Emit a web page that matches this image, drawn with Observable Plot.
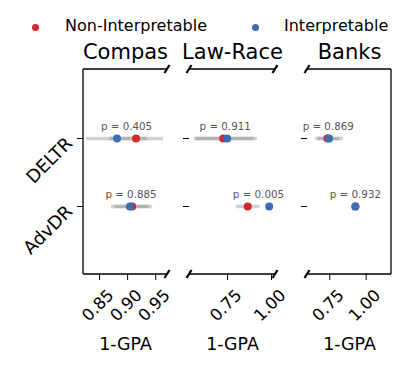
<!DOCTYPE html>
<html><head><meta charset="utf-8">
<script src="https://cdn.jsdelivr.net/npm/d3@7"></script>
<script src="https://cdn.jsdelivr.net/npm/@observablehq/plot@0.6"></script>
<style>
body{margin:0;background:#fff;}
#wrap{position:relative;width:408px;height:366px;overflow:hidden;font-family:"DejaVu Sans",sans-serif;}
.panel{position:absolute;top:0;}
.leg{position:absolute;font-size:16px;line-height:16px;color:#000;white-space:nowrap;}
.ldot{position:absolute;width:7px;height:7px;border-radius:50%;}
</style></head><body>
<div id="wrap"></div>
<script>
const datasets = ["Compas", "Law-Race", "Banks"];
const methods = ["DELTR", "AdvDR"];
const seriesNames = ["Non-Interpretable", "Interpretable"];
const seriesColors = ["#d0282e", "#3c6cb4"];
// values indexed [dataset][method]
const nonInterpMean = [[0.915, 0.908], [0.726, 0.865], [0.734, 0.926]];
const nonInterpLo   = [[0.827, 0.871], [0.563, 0.801], [0.653, 0.926]];
const nonInterpHi   = [[0.964, 0.944], [0.920, 0.934], [0.842, 0.926]];
const interpMean    = [[0.881, 0.904], [0.748, 0.987], [0.745, 0.926]];
const interpLo      = [[0.868, 0.878], [0.570, 0.987], [0.670, 0.926]];
const interpHi      = [[0.935, 0.938], [0.900, 0.987], [0.820, 0.926]];
const pValues = [["0.405", "0.885"], ["0.911", "0.005"], ["0.869", "0.932"]];
const xDomains = [[0.8214, 0.971], [0.534, 1.023], [0.597, 1.174]];
const xTicks = [[0.85, 0.90, 0.95], [0.75, 1.00], [0.75, 1.00]];
const xLabel = "1-GPA";

const layout = [
  {left: 0, width: 178, mL: 83, mR: 11, spineL: true, spineR: false, brkL: false, brkR: true},
  {left: 178, width: 112, mL: 11, mR: 15, spineL: false, spineR: false, brkL: true, brkR: true},
  {left: 290, width: 118, mL: 17, mR: 17, spineL: false, spineR: true, brkL: true, brkR: false}
];

const wrap = document.getElementById("wrap");
const fmt = d3.format(".2f");

datasets.forEach((name, di) => {
  const L = layout[di];
  const rows = methods.map((m, mi) => ({
    method: m,
    nm: nonInterpMean[di][mi], nlo: nonInterpLo[di][mi], nhi: nonInterpHi[di][mi],
    im: interpMean[di][mi], ilo: interpLo[di][mi], ihi: interpHi[di][mi],
    p: "p = " + pValues[di][mi]
  }));
  const marks = [
    Plot.ruleY(rows, {y: "method", x1: "nlo", x2: "nhi", stroke: "#7f7f7f", strokeOpacity: 0.36, strokeWidth: 3.5}),
    Plot.ruleY(rows, {y: "method", x1: "ilo", x2: "ihi", stroke: "#7f7f7f", strokeOpacity: 0.36, strokeWidth: 3.5}),
    Plot.dot(rows, {y: "method", x: "nm", r: 4, fill: seriesColors[0]}),
    Plot.dot(rows, {y: "method", x: "im", r: 4, fill: seriesColors[1]}),
    Plot.text(rows, {y: "method", x: d => (d.nm + d.im) / 2, text: "p", fontSize: 10.3, fill: "#555", lineAnchor: "bottom", dy: -9}),
    Plot.text([name], {frameAnchor: "top", text: d => d, fontSize: 21, lineAnchor: "bottom", dy: -11}),
    Plot.text([xLabel], {frameAnchor: "bottom", text: d => d, fontSize: 17.4, lineAnchor: "bottom", dy: 75}),
    Plot.text(xTicks[di], {x: d => d, frameAnchor: "bottom", text: d => fmt(d), rotate: -45, textAnchor: "middle", lineAnchor: "middle", fontSize: 16.5, dy: 31, dx: -1.5})
  ];
  if (di === 0) {
    marks.push(Plot.text(methods, {y: d => d, frameAnchor: "left", text: d => d, rotate: -45, textAnchor: "end", lineAnchor: "middle", fontSize: 18, dx: -14, dy: 2}));
  }
  const chart = Plot.plot({
    width: L.width,
    height: 366,
    marginLeft: L.mL,
    marginRight: L.mR,
    marginTop: 69,
    marginBottom: 92,
    style: {background: "transparent", fontFamily: "DejaVu Sans", fontSize: "16px", overflow: "visible", color: "#000"},
    x: {domain: xDomains[di], ticks: xTicks[di], tickSize: 6, tickFormat: () => "", label: null},
    y: {type: "point", domain: methods, padding: 1, tickSize: 6, tickFormat: () => "", label: null},
    marks
  });
  chart.classList.add("panel");
  chart.style.left = L.left + "px";
  wrap.appendChild(chart);

  // axis spines and break marks (decoration)
  const [x0, x1] = chart.scale("x").range;
  const y0 = 69, y1 = 366 - 92;
  const svg = d3.select(chart);
  const g = svg.append("g").attr("stroke", "#000").attr("stroke-width", 1.3).attr("fill", "none");
  g.append("line").attr("x1", x0).attr("x2", x1).attr("y1", y0).attr("y2", y0);
  g.append("line").attr("x1", x0).attr("x2", x1).attr("y1", y1).attr("y2", y1);
  if (L.spineL) g.append("line").attr("x1", x0).attr("x2", x0).attr("y1", y0).attr("y2", y1);
  if (L.spineR) g.append("line").attr("x1", x1).attr("x2", x1).attr("y1", y0).attr("y2", y1);
  const brk = (x, y) => g.append("line").attr("x1", x - 2.5).attr("x2", x + 2.5).attr("y1", y + 4).attr("y2", y - 4).attr("stroke-width", 2.2);
  if (L.brkL) { brk(x0, y0); brk(x0, y1); }
  if (L.brkR) { brk(x1, y0); brk(x1, y1); }
});

// legend
const legendPos = [{dot: 35, text: 65}, {dot: 255, text: 284}];
seriesNames.forEach((s, i) => {
  const d = document.createElement("div");
  d.className = "ldot";
  d.style.background = seriesColors[i];
  d.style.left = (legendPos[i].dot - 3.5) + "px";
  d.style.top = (27 - 3.5) + "px";
  wrap.appendChild(d);
  const t = document.createElement("div");
  t.className = "leg";
  t.textContent = s;
  t.style.left = legendPos[i].text + "px";
  t.style.top = "17.5px";
  wrap.appendChild(t);
});
</script>
</body></html>
